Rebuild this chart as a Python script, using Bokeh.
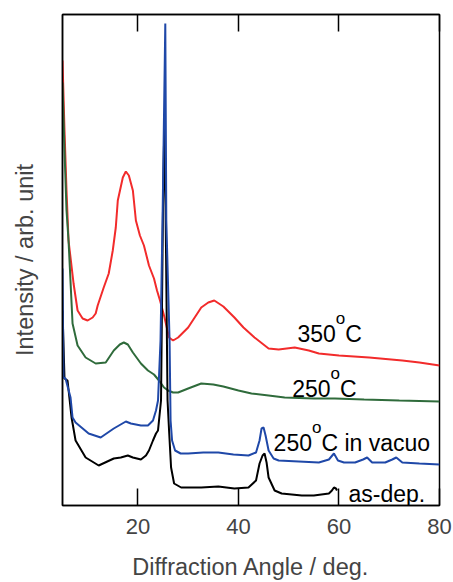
from bokeh.plotting import figure
from bokeh.models import LinearAxis, FixedTicker, Range1d
from bokeh.embed import file_html
from bokeh.resources import INLINE
from bokeh.core.properties import value

# ---- data (2theta in deg, intensity in arbitrary units) ----
red_x = [5.0, 5.4, 5.8, 6.2, 7.2, 8.0, 9.0, 10.0, 11.0, 11.6, 12.0, 13.2, 14.2, 15.0, 15.6, 16.0,
         17.0, 17.6, 18.2, 19.0, 19.6, 20.4, 21.2, 22.2, 23.2, 23.8, 24.4, 25.2, 26.2, 27.0, 28.0,
         30.0, 32.6, 34.0, 35.2, 37.0, 39.2, 41.0, 43.2, 46.0, 48.0, 51.2, 54.0, 56.0, 60.0, 66.0,
         72.6, 76.0, 80.0]
red_y = [445, 375, 315, 265, 222, 195, 187, 185, 188, 192, 200, 218, 232, 255, 278, 305,
         328, 334, 330, 315, 285, 270, 260, 240, 227, 215, 205, 190, 168, 165, 168,
         178, 198, 203, 205, 199, 188, 178, 168, 157, 156, 158, 155, 152, 150, 148,
         145, 143, 140]

green_x = [5.0, 5.4, 5.8, 6.2, 7.0, 8.0, 9.6, 11.6, 13.6, 15.2, 16.4, 17.2, 18.0, 19.0, 20.6,
           22.0, 23.2, 24.2, 25.2, 26.0, 27.0, 28.0, 30.0, 32.6, 35.0, 37.0, 40.0, 42.6, 46.0,
           49.2, 55.0, 59.2, 65.0, 72.0, 80.0]
green_y = [423, 355, 295, 265, 182, 160, 148, 142, 143, 155, 161, 163, 161, 153, 142,
           135, 131, 125, 118, 115, 113, 113, 117, 122, 121, 119, 115, 112, 110,
           108, 107, 107, 106, 105, 104]

blue_x = [5.0, 5.2, 5.6, 6.6, 7.0, 7.6, 10.2, 12.6, 15.2, 17.6, 18.6, 20.6, 22.0, 23.0, 23.6,
          24.0, 24.5, 24.9, 25.45, 25.65, 26.3, 26.5, 26.8, 27.4, 28.5, 30.0, 33.0, 36.0,
          39.0, 42.0, 43.5, 44.2, 44.6, 45.0, 45.4, 46.0, 47.0, 48.0, 52.0, 56.0, 58.0, 59.0,
          59.8, 61.0, 63.2, 64.8, 65.6, 66.6, 69.2, 70.6, 71.4, 72.6, 76.0, 80.0]
blue_y = [237, 128, 127, 108, 88, 83, 72, 68, 77, 84, 82, 80, 80, 85, 95,
          105, 165, 285, 482, 285, 165, 85, 65, 55, 52, 52, 53, 53,
          51, 50, 53, 65, 77, 78, 70, 55, 47, 45, 44, 43, 46, 52,
          45, 43, 43, 46, 48, 43, 43, 46, 48, 43, 42, 41]

black_x = [5.0, 5.4, 6.0, 6.8, 7.6, 9.6, 12.2, 15.2, 16.6, 18.0, 19.0, 20.6, 21.6, 22.2, 23.0,
           23.6, 24.0, 24.6, 25.0, 25.25, 25.5, 25.9, 26.2, 26.6, 27.2, 28.6, 32.6, 36.0, 39.2,
           42.0, 43.5, 44.2, 44.8, 45.2, 45.6, 46.0, 47.2, 48.6, 52.6, 55.0, 58.0, 58.6, 59.0,
           59.4, 59.6]
black_y = [195, 127, 125, 88, 65, 48, 40, 47, 48, 50, 48, 46, 50, 55, 65,
           72, 75, 105, 300, 380, 300, 105, 75, 38, 22, 18, 18, 19, 17,
           18, 25, 42, 50, 52, 43, 28, 15, 12, 10, 10, 12, 15, 18,
           17, 15]

x_ticks = [20, 40, 60, 80]

# annotation texts: number, superscript, rest, x start [deg], baseline y
lab_num = ["350", "250", "250", "as-dep."]
lab_sup = ["o", "o", "o", ""]
lab_rest = ["C", "C", "C in vacuo", ""]
lab_x = [51.75, 50.7, 47.0, 61.9]
lab_y = [172, 117, 63, 12]

X0, X1 = 5, 80
Y0, Y1 = 0, 491
FRAME_W, FRAME_H = 377, 491

p = figure(width=453, height=582, output_backend="svg", toolbar_location=None,
           x_range=Range1d(X0, X1), y_range=Range1d(Y0, Y1),
           min_border_left=62, min_border_right=14, min_border_top=14, min_border_bottom=77)
p.grid.visible = False
p.outline_line_color = "black"
p.outline_line_width = 1.5
p.background_fill_color = "white"
p.border_fill_color = "white"

FONT = "Liberation Sans"

# bottom axis
xa = p.xaxis[0]
xa.ticker = FixedTicker(ticks=x_ticks)
xa.major_tick_in = 17
xa.major_tick_out = 0
xa.minor_tick_line_color = None
xa.major_tick_line_width = 1.5
xa.axis_line_width = 1.5
xa.major_label_text_font = FONT
xa.major_label_text_font_size = "22px"
xa.major_label_standoff = 13
xa.axis_label = "Diffraction Angle / deg."
xa.axis_label_text_font = FONT
xa.axis_label_text_font_style = "normal"
xa.axis_label_text_font_size = "23.5px"
xa.axis_label_standoff = 17

# left axis
ya = p.yaxis[0]
ya.ticker = FixedTicker(ticks=[])
ya.major_tick_in = 0
ya.major_tick_out = 0
ya.minor_tick_line_color = None
ya.axis_line_width = 1.5
ya.axis_label = "Intensity / arb. unit"
ya.axis_label_text_font = FONT
ya.axis_label_text_font_style = "normal"
ya.axis_label_text_font_size = "23.5px"
ya.axis_label_standoff = 25

# top axis with inward ticks only (labels not painted)
ta = LinearAxis(ticker=FixedTicker(ticks=x_ticks), major_tick_in=17, major_tick_out=0,
                minor_tick_line_color=None, major_tick_line_width=1.5, axis_line_width=1.5,
                major_label_text_color=None, major_label_text_font_size="1px",
                major_label_standoff=0)
p.add_layout(ta, "above")

# curves
p.line(red_x, red_y, line_color="#f22b2b", line_width=2)
p.line(green_x, green_y, line_color="#2f6b3b", line_width=2)
p.line(black_x, black_y, line_color="#000000", line_width=2)
p.line(blue_x, blue_y, line_color="#1f48a8", line_width=2)

# labels with superscript degree "o"
px_per_deg = FRAME_W / (X1 - X0)
main_fs = 23
sup_fs = 17
num_w = 3 * 0.556 * main_fs        # width of the 3-digit number in px
sup_w = 0.556 * sup_fs
sup_rise = 15

for num, sup, rest, x, y in zip(lab_num, lab_sup, lab_rest, lab_x, lab_y):
    p.text([x], [y], text=[num], text_font=value(FONT), text_font_size=f"{main_fs}px",
           text_baseline="alphabetic", text_align="left", text_color="black")
    if sup:
        xs = x + num_w / px_per_deg
        p.text([xs], [y + sup_rise], text=[sup], text_font=value(FONT),
               text_font_size=f"{sup_fs}px", text_baseline="alphabetic", text_align="left",
               text_color="black")
        xr = xs + sup_w / px_per_deg
        p.text([xr], [y], text=[rest], text_font=value(FONT), text_font_size=f"{main_fs}px",
               text_baseline="alphabetic", text_align="left", text_color="black")

open("out.html", "w").write(file_html(p, INLINE))
